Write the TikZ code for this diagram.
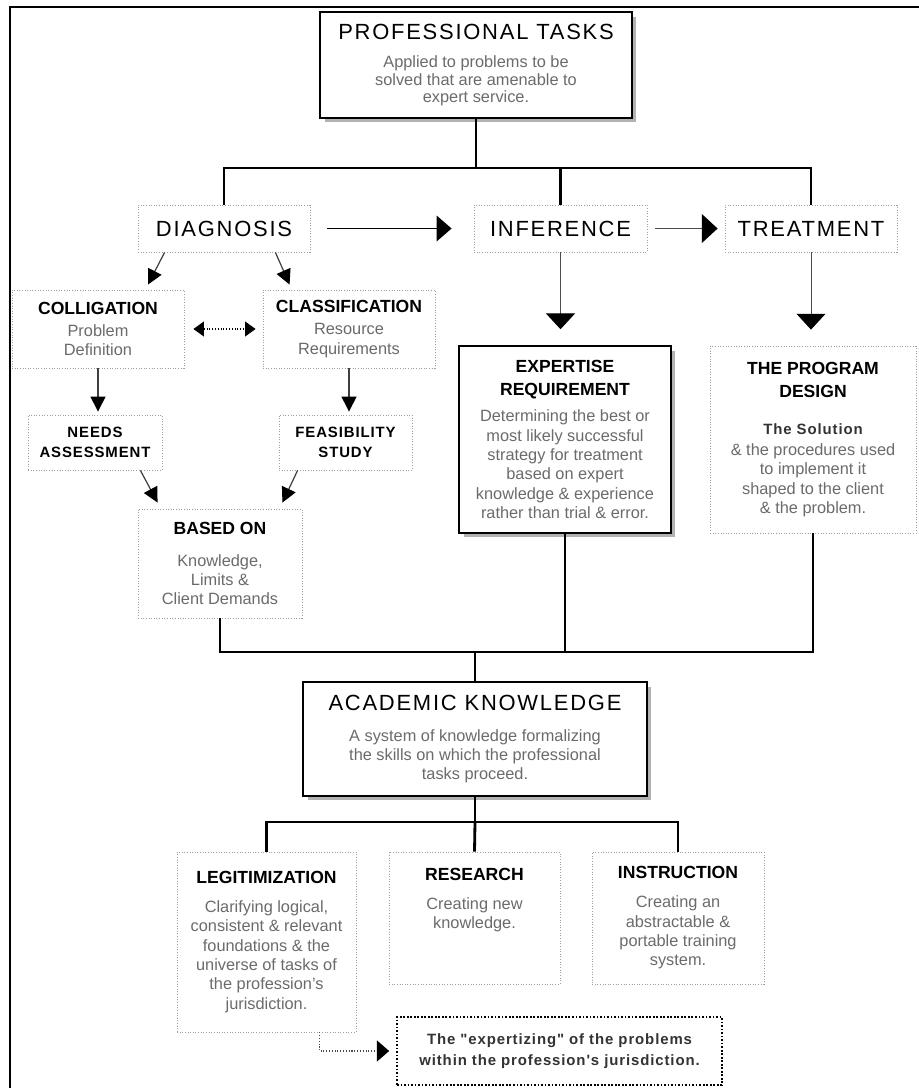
\documentclass[tikz,border=0pt]{standalone}
\usepackage{fontspec}
\setmainfont{Liberation Sans}
\newfontfamily\widefont[LetterSpace=8]{Liberation Sans}
\newfontfamily\spacedfont[LetterSpace=6]{Liberation Sans}
\usetikzlibrary{arrows.meta, calc, shadows}

\newcommand{\titlefont}{\widefont\fontsize{12.5}{15}\selectfont\color{black}}
\newcommand{\headfont}{\fontsize{10}{12}\selectfont\bfseries\color{black}}
\newcommand{\capsfont}{\spacedfont\fontsize{8.5}{11}\selectfont\bfseries\color{black}}
\newcommand{\bodyfont}{\fontsize{9.3}{11}\selectfont}

\begin{document}
\begin{tikzpicture}[
        x=0.02cm, y=-0.02cm,
        box/.style={rectangle, draw=gray!75, densely dotted, line width=0.5pt, fill=white, align=center, inner sep=2pt, font=\bodyfont, text=black!58},
        mainbox/.style={box, draw=black, solid, line width=0.9pt, drop shadow={shadow xshift=0.09cm, shadow yshift=-0.09cm, fill=gray!60, opacity=1}},
        keybox/.style={box, draw=black, line width=1pt},
        bar/.style={line width=1.6pt},
        bigarrow/.style={-{Triangle[length=8.5pt, width=14.5pt]}, line width=1.1pt},
        longarrow/.style={-{Triangle[length=9pt, width=16.5pt, color=black]}, line width=0.5pt, draw=black!70},
        smallarrow/.style={-{Triangle[length=8.5pt, width=8.5pt, color=black]}, line width=0.7pt, draw=black!75},
        botharrow/.style={{Triangle[length=6pt, width=8.5pt]}-{Triangle[length=6pt, width=8.5pt]}, densely dotted, line width=0.6pt},
        dotarrow/.style={-{Triangle[length=7pt, width=12pt, color=black]}, densely dotted, line width=0.6pt, draw=black!70}
    ]
        \useasboundingbox (0,0) rectangle (919,1088);
        \draw[line width=1.2pt] (919,7) -- (10,7) -- (10,1088);

        % Professional tasks
        \node[mainbox, minimum width=6.24cm, minimum height=2.12cm] (prof) at (476,65)
            {{\titlefont PROFESSIONAL TASKS}\\[5pt]Applied to problems to be\\[-1pt]solved that are amenable to\\[-1pt]expert service.};

        % Three phases
        \node[box, minimum width=3.44cm, minimum height=0.94cm] (diag) at (224,228.5) {\titlefont DIAGNOSIS};
        \node[box, minimum width=3.46cm, minimum height=0.94cm] (infer) at (560.5,228.5) {\titlefont INFERENCE};
        \node[box, minimum width=3.44cm, minimum height=0.94cm] (treat) at (811,228.5) {\titlefont TREATMENT};

        % Diagnosis branch
        \node[box, minimum width=3.44cm, minimum height=1.56cm] (coll) at (98,329)
            {{\headfont COLLIGATION}\\[1.5pt]Problem\\Definition};
        \node[box, minimum width=3.44cm, minimum height=1.56cm] (class) at (349,329)
            {{\headfont CLASSIFICATION}\\[1.5pt]Resource\\Requirements};
        \node[box, minimum width=2.68cm, minimum height=1.10cm] (needs) at (95,442.5)
            {{\capsfont NEEDS}\\{\capsfont ASSESSMENT}};
        \node[box, minimum width=2.66cm, minimum height=1.10cm] (feas) at (345.5,442.5)
            {{\capsfont FEASIBILITY}\\{\capsfont STUDY}};
        \node[box, minimum width=3.28cm, minimum height=2.18cm] (based) at (220,563.5)
            {{\headfont BASED ON}\\[7pt]Knowledge,\\Limits \&\\Client Demands};

        % Inference and treatment branches
        \node[mainbox, minimum width=4.24cm, minimum height=3.74cm] (expert) at (565,439.5)
            {{\headfont EXPERTISE}\\[2pt]{\headfont REQUIREMENT}\\[4pt]Determining the best or\\most likely successful\\strategy for treatment\\based on expert\\knowledge \& experience\\rather than trial \& error.};
        \node[box, minimum width=4.12cm, minimum height=3.74cm] (design) at (813,439.5)
            {{\headfont THE PROGRAM}\\[2pt]{\headfont DESIGN}\\[10pt]{\capsfont\color{black!80} The Solution}\\[1pt]\& the procedures used\\to implement it\\shaped to the client\\\& the problem.};

        % Academic knowledge
        \node[mainbox, minimum width=6.88cm, minimum height=2.28cm] (acad) at (475,739)
            {{\titlefont ACADEMIC KNOWLEDGE}\\[6.5pt]A system of knowledge formalizing\\the skills on which the professional\\tasks proceed.};

        % Its three parts
        \node[box, minimum width=3.58cm, minimum height=3.60cm] (legit) at (266.5,942)
            {{\headfont LEGITIMIZATION}\\[5.5pt]Clarifying logical,\\consistent \& relevant\\foundations \& the\\universe of tasks of\\the profession's\\jurisdiction.};
        \node[box, minimum width=3.42cm, minimum height=2.64cm] (research) at (474.5,918)
            {{\headfont RESEARCH}\\[5.5pt]Creating new\\knowledge.\\~\\~};
        \node[box, minimum width=3.44cm, minimum height=2.64cm] (instr) at (678,918)
            {{\headfont INSTRUCTION}\\[5.5pt]Creating an\\abstractable \&\\portable training\\system.};
        \node[keybox, minimum width=6.50cm, minimum height=1.36cm] (expertizing) at (559.5,1051)
            {{\capsfont\color{black!80} The "expertizing" of the problems}\\[1pt]{\capsfont\color{black!80} within the profession's jurisdiction.}};

        % Bars
        \coordinate (topbar) at (476,168);
        \coordinate (midbar) at (475,652);
        \coordinate (lowbar) at (475,822);

        \draw[bar] (prof.south) -- (topbar);
        \draw[bar] (diag.north) |- (topbar) -| (treat.north);
        \draw[bar] (topbar -| infer.north) -- (infer.north);

        \draw[bar] (based.south) |- (midbar) -| (design.south);
        \draw[bar] (expert.south) -- (expert.south |- midbar);
        \draw[bar] (midbar) -- (acad.north);

        \draw[bar] (acad.south) -- (lowbar);
        \draw[bar] (legit.north) |- (lowbar) -| (instr.north);
        \draw[bar] (lowbar) -- (research.north);

        % Arrows
        \draw[bigarrow, shorten <=0.34cm, shorten >=0.44cm] (diag.east) -- (infer.west);
        \draw[longarrow, shorten <=0.16cm, shorten >=0.14cm] (infer.east) -- (treat.west);
        \draw[longarrow, shorten >=0.32cm] (infer.south) -- (infer.south |- expert.north);
        \draw[longarrow, shorten >=0.32cm] (treat.south) -- (treat.south |- design.north);

        \draw[smallarrow] ($(diag.south west)+(27,0)$) -- ($(coll.north)+(50,-5)$);
        \draw[smallarrow] ($(diag.south east)+(-35,0)$) -- ($(class.north west)+(27,-5)$);
        \draw[botharrow, shorten <=0.18cm, shorten >=0.14cm] (coll.east) -- (class.west);
        \draw[smallarrow, shorten >=0.06cm] (coll.south) -- (coll.south |- needs.north);
        \draw[smallarrow, shorten >=0.06cm] (class.south) -- (class.south |- feas.north);
        \draw[smallarrow] ($(needs.south east)+(-22,0)$) -- ($(based.north west)+(20,-6)$);
        \draw[smallarrow] ($(feas.south west)+(19,0)$) -- ($(based.north east)+(-20,-6)$);

        \draw[dotarrow, shorten >=0.14cm] ($(legit.south east)+(-37,0)$) |- (expertizing.west);
    \end{tikzpicture}
\end{document}
